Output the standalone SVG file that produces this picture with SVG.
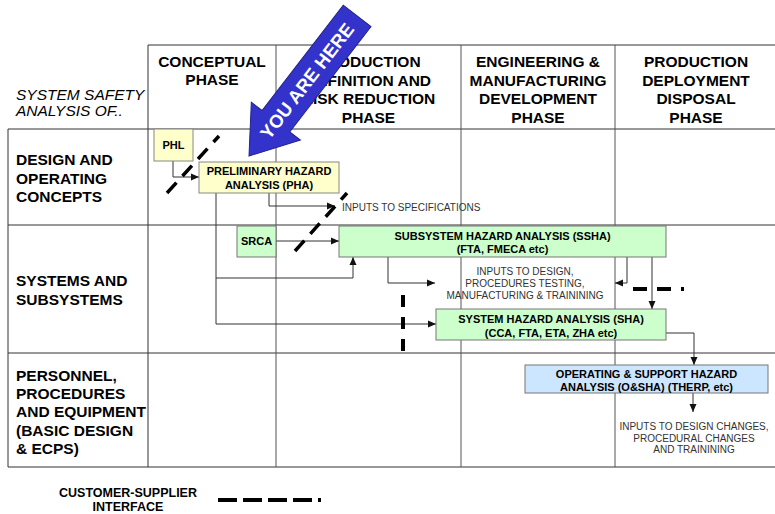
<svg xmlns="http://www.w3.org/2000/svg" width="775" height="514" viewBox="0 0 775 514">
<defs>
<marker id="ah" markerWidth="8" markerHeight="8" refX="8" refY="4" orient="auto" markerUnits="userSpaceOnUse">
<path d="M0,0.5 L8,4 L0,7.5 z" fill="#111"/>
</marker>
<style>
text{font-family:"Liberation Sans",Arial,sans-serif;fill:#000}
.hdr{font-size:15.5px;font-weight:bold;text-anchor:middle}
.row{font-size:15.5px;font-weight:bold}
.nt{font-size:11px;font-weight:bold;text-anchor:middle}
.lab{font-size:10px;fill:#333;text-anchor:middle}
.grid{stroke:#333;stroke-width:1;fill:none}
.vgrid{stroke:#555;stroke-width:1;fill:none}
.yel{fill:#ffffcc;stroke:#888;stroke-width:1}
.grn{fill:#ccffcc;stroke:#777;stroke-width:1}
.blu{fill:#cce6ff;stroke:#777;stroke-width:1}
.con{stroke:#333;stroke-width:1;fill:none}
.dash{stroke:#000;stroke-width:3.5;fill:none}
</style>
</defs>
<rect width="775" height="514" fill="#fff"/>
<g id="grid">
<path class="grid" d="M148,45 H775 M8,129 H775 M8,225 H775 M8,353 H775 M8,467 H775"/>
<path class="grid" d="M8,129 V467 M148,45 V467"/>
<path class="vgrid" d="M276,45 V467 M461,45 V467 M615,45 V467"/>
</g>
<g id="headers">
<text x="16" y="100" style="font-size:15.5px;font-style:italic">SYSTEM SAFETY</text>
<text x="16" y="116" style="font-size:15.5px;font-style:italic">ANALYSIS OF..</text>
<text class="hdr" x="212" y="67">CONCEPTUAL</text>
<text class="hdr" x="212" y="85">PHASE</text>
<text class="hdr" x="368.5" y="67">PRODUCTION</text>
<text class="hdr" x="368.5" y="85.5">DEFINITION AND</text>
<text class="hdr" x="368.5" y="104">RISK REDUCTION</text>
<text class="hdr" x="368.5" y="122.5">PHASE</text>
<text class="hdr" x="538" y="67">ENGINEERING &amp;</text>
<text class="hdr" x="538" y="85.5">MANUFACTURING</text>
<text class="hdr" x="538" y="104">DEVELOPMENT</text>
<text class="hdr" x="538" y="122.5">PHASE</text>
<text class="hdr" x="696" y="67">PRODUCTION</text>
<text class="hdr" x="696" y="85.5">DEPLOYMENT</text>
<text class="hdr" x="696" y="104">DISPOSAL</text>
<text class="hdr" x="696" y="122.5">PHASE</text>
</g>
<g id="rows">
<text class="row" x="16" y="165">DESIGN AND</text>
<text class="row" x="16" y="183.5">OPERATING</text>
<text class="row" x="16" y="202">CONCEPTS</text>
<text class="row" x="16" y="286">SYSTEMS AND</text>
<text class="row" x="16" y="304.5">SUBSYSTEMS</text>
<text class="row" x="16" y="381">PERSONNEL,</text>
<text class="row" x="16" y="399">PROCEDURES</text>
<text class="row" x="16" y="417">AND EQUIPMENT</text>
<text class="row" x="16" y="436">(BASIC DESIGN</text>
<text class="row" x="16" y="454">&amp; ECPS)</text>
</g>
<g id="connectors">
<path class="con" d="M173,161 V177 H199" marker-end="url(#ah)"/>
<path class="con" d="M269,193 V206 H335" marker-end="url(#ah)"/>
<path class="con" d="M276,241 H339" marker-end="url(#ah)"/>
<path class="con" d="M216,193 V324 H436" marker-end="url(#ah)"/>
<path class="con" d="M216,278 H353 V257" marker-end="url(#ah)"/>
<path class="con" d="M388,257 V283 H435" marker-end="url(#ah)"/>
<path class="con" d="M627,257 V283 H615" marker-end="url(#ah)"/>
<path class="con" d="M652,257 V309" marker-end="url(#ah)"/>
<path class="con" d="M666,333 H694 V365" marker-end="url(#ah)"/>
<path class="con" d="M693,393 V412" marker-end="url(#ah)"/>
</g>
<g id="labels">
<text x="342" y="210.5" style="font-size:10px;fill:#333">INPUTS TO SPECIFICATIONS</text>
<text class="lab" x="525" y="275">INPUTS TO DESIGN,</text>
<text class="lab" x="525" y="287">PROCEDURES TESTING,</text>
<text class="lab" x="525" y="299">MANUFACTURING &amp; TRAININING</text>
<text class="lab" x="694" y="430">INPUTS TO DESIGN CHANGES,</text>
<text class="lab" x="694" y="441.5">PROCEDURAL CHANGES</text>
<text class="lab" x="694" y="453">AND TRAININING</text>
</g>
<g id="phl"><rect class="yel" x="154" y="129" width="39" height="32"/><text class="nt" x="173.5" y="149">PHL</text></g>
<g id="pha"><rect class="yel" x="199" y="162" width="140" height="31"/><text class="nt" x="269" y="175">PRELIMINARY HAZARD</text><text class="nt" x="269" y="189">ANALYSIS (PHA)</text></g>
<g id="srca"><rect class="grn" x="237" y="226" width="39" height="31"/><text class="nt" x="256.5" y="245">SRCA</text></g>
<g id="ssha"><rect class="grn" x="339" y="226" width="327" height="31"/><text class="nt" x="502.5" y="240">SUBSYSTEM HAZARD ANALYSIS (SSHA)</text><text class="nt" x="502.5" y="253">(FTA, FMECA etc)</text></g>
<g id="sha"><rect class="grn" x="436" y="309" width="230" height="31"/><text class="nt" x="551" y="323">SYSTEM HAZARD ANALYSIS (SHA)</text><text class="nt" x="551" y="337">(CCA, FTA, ETA, ZHA etc)</text></g>
<g id="osha"><rect class="blu" x="525" y="365" width="243" height="28"/><text class="nt" x="646.5" y="377.5">OPERATING &amp; SUPPORT HAZARD</text><text class="nt" x="646.5" y="390.5">ANALYSIS (O&amp;SHA) (THERP, etc)</text></g>
<g id="interface">
<path class="dash" d="M167,193 L219,136" stroke-dasharray="14 9"/>
<path class="dash" d="M295,251 L347,193" stroke-dasharray="14 9"/>
<path class="dash" d="M403,295 V353" stroke-dasharray="12 10" style="stroke-width:4"/>
<path class="dash" d="M633,289 H684" stroke-dasharray="14 10" style="stroke-width:4"/>
</g>
<g id="legend">
<text x="128" y="497" style="font-size:12.5px;font-weight:bold;text-anchor:middle">CUSTOMER-SUPPLIER</text>
<text x="128" y="511" style="font-size:12.5px;font-weight:bold;text-anchor:middle">INTERFACE</text>
<path d="M218,500 H321" stroke="#000" stroke-width="4" stroke-dasharray="19 6"/>
</g>
<g id="you-are-here">
<path d="M0,0 L-44,-31 L-44,-17.5 L-177,-17.5 L-177,17.5 L-44,17.5 L-44,31 Z" transform="translate(249,156) rotate(127.65)" fill="#3333cc" stroke="#22228a" stroke-width="1"/>
<text transform="translate(307,81) rotate(-52.35)" dy="6.5" style="font-size:18.5px;font-weight:bold;fill:#fff;text-anchor:middle">YOU ARE HERE</text>
</g>
</svg>
